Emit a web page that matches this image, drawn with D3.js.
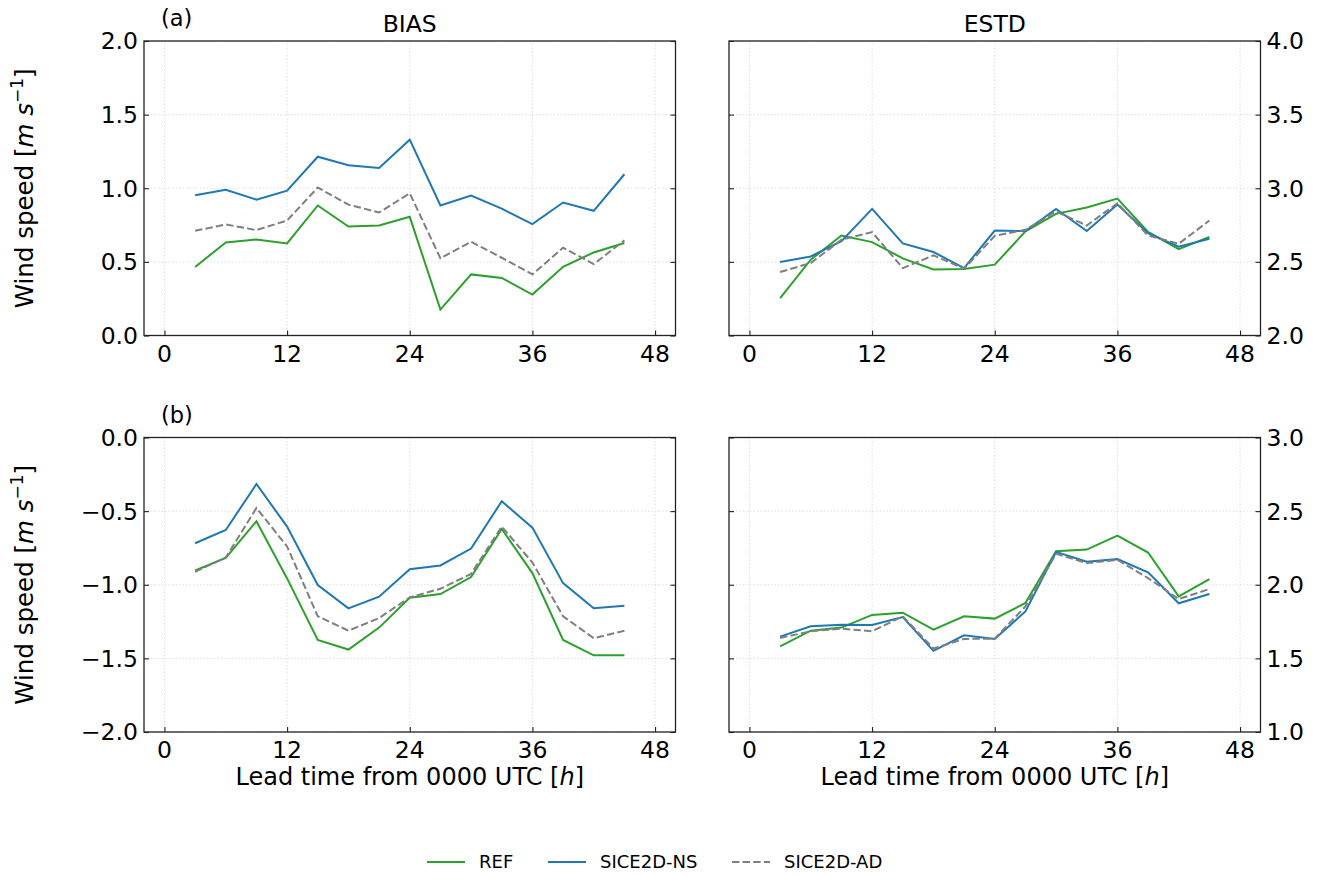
<!DOCTYPE html>
<html>
<head>
<meta charset="utf-8">
<script src="https://cdn.jsdelivr.net/npm/d3@7"></script>
<style>
  body { margin: 0; background: #fff; }
  svg { font-family: "DejaVu Sans", sans-serif; }
</style>
</head>
<body>
<script>
// lead times (h)
var leadTimes = [3, 6, 9, 12, 15, 18, 21, 24, 27, 30, 33, 36, 39, 42, 45];
var xTicks = [0, 12, 24, 36, 48];

// (a) BIAS
var aBiasREF = [0.465, 0.632, 0.652, 0.625, 0.883, 0.740, 0.747, 0.806, 0.176, 0.415, 0.391, 0.278, 0.467, 0.564, 0.628];
var aBiasNS  = [0.953, 0.989, 0.923, 0.984, 1.214, 1.156, 1.138, 1.330, 0.883, 0.950, 0.862, 0.756, 0.903, 0.847, 1.095];
var aBiasAD  = [0.711, 0.754, 0.716, 0.781, 1.005, 0.889, 0.835, 0.966, 0.524, 0.637, 0.528, 0.415, 0.596, 0.485, 0.646];
// (a) ESTD
var aEstdREF = [2.253, 2.515, 2.679, 2.634, 2.524, 2.449, 2.451, 2.481, 2.707, 2.826, 2.869, 2.930, 2.704, 2.587, 2.670];
var aEstdNS  = [2.499, 2.537, 2.641, 2.860, 2.625, 2.567, 2.458, 2.713, 2.709, 2.860, 2.709, 2.889, 2.695, 2.603, 2.657];
var aEstdAD  = [2.431, 2.492, 2.650, 2.702, 2.458, 2.544, 2.454, 2.677, 2.718, 2.842, 2.747, 2.898, 2.679, 2.623, 2.781];
// (b) BIAS
var bBiasREF = [-0.903, -0.817, -0.569, -0.957, -1.375, -1.440, -1.291, -1.088, -1.063, -0.948, -0.621, -0.921, -1.375, -1.479, -1.479];
var bBiasNS  = [-0.718, -0.628, -0.316, -0.605, -1.002, -1.160, -1.081, -0.894, -0.869, -0.754, -0.433, -0.612, -0.989, -1.160, -1.142];
var bBiasAD  = [-0.912, -0.815, -0.479, -0.740, -1.214, -1.312, -1.226, -1.086, -1.027, -0.926, -0.605, -0.849, -1.214, -1.363, -1.312];
// (b) ESTD
var bEstdREF = [1.582, 1.688, 1.709, 1.795, 1.810, 1.695, 1.786, 1.770, 1.876, 2.228, 2.239, 2.334, 2.219, 1.921, 2.038];
var bEstdNS  = [1.648, 1.718, 1.729, 1.727, 1.781, 1.551, 1.657, 1.632, 1.819, 2.223, 2.156, 2.174, 2.084, 1.874, 1.937];
var bEstdAD  = [1.639, 1.684, 1.702, 1.684, 1.786, 1.567, 1.632, 1.634, 1.853, 2.210, 2.147, 2.169, 2.045, 1.903, 1.971];

var seriesNames = ["REF", "SICE2D-NS", "SICE2D-AD"];
var seriesColors = ["#2ca02c", "#1f77b4", "#7f7f7f"];
var seriesDash = [null, null, "7.4,3.2"];

var W = 1320, H = 875;
var svg = d3.select("body").append("svg")
  .attr("width", W)
  .attr("height", H);

// panel boxes
var colX = [[144, 675.5], [729, 1260.5]];
var rowY = [[41, 335.5], [437.5, 732]];

var panels = [
  {row: 0, col: 0, dom: [0, 2], ticks: [0, 0.5, 1, 1.5, 2], data: [aBiasREF, aBiasNS, aBiasAD], title: "BIAS", tag: "(a)"},
  {row: 0, col: 1, dom: [2, 4], ticks: [2, 2.5, 3, 3.5, 4], data: [aEstdREF, aEstdNS, aEstdAD], title: "ESTD"},
  {row: 1, col: 0, dom: [-2, 0], ticks: [-2, -1.5, -1, -0.5, 0], data: [bBiasREF, bBiasNS, bBiasAD], tag: "(b)"},
  {row: 1, col: 1, dom: [1, 3], ticks: [1, 1.5, 2, 2.5, 3], data: [bEstdREF, bEstdNS, bEstdAD]}
];

var fmt = function(v) { return d3.format(".1f")(v).replace("-", "\u2212"); };
var tickLen = 5;
var fs = 23.5;

panels.forEach(function(p) {
  var x0 = colX[p.col][0], x1 = colX[p.col][1];
  var y0 = rowY[p.row][0], y1 = rowY[p.row][1];
  var x = d3.scaleLinear().domain([-2, 50]).range([x0, x1]);
  var y = d3.scaleLinear().domain(p.dom).range([y1, y0]);
  var g = svg.append("g");

  // grid
  g.selectAll("line.gx").data(xTicks).enter().append("line")
    .attr("x1", d => x(d)).attr("x2", d => x(d))
    .attr("y1", y0).attr("y2", y1)
    .attr("stroke", "#d9d9d9").attr("stroke-width", 0.9).attr("stroke-dasharray", "1.5,2");
  g.selectAll("line.gy").data(p.ticks).enter().append("line")
    .attr("x1", x0).attr("x2", x1)
    .attr("y1", d => y(d)).attr("y2", d => y(d))
    .attr("stroke", "#d9d9d9").attr("stroke-width", 0.9).attr("stroke-dasharray", "1.5,2");

  // lines
  var line = d3.line().x((d, i) => x(leadTimes[i])).y(d => y(d));
  p.data.forEach(function(vals, k) {
    g.append("path")
      .datum(vals)
      .attr("d", line)
      .attr("fill", "none")
      .attr("stroke", seriesColors[k])
      .attr("stroke-width", 2)
      .attr("stroke-dasharray", seriesDash[k]);
  });

  // frame
  g.append("rect")
    .attr("x", x0).attr("y", y0)
    .attr("width", x1 - x0).attr("height", y1 - y0)
    .attr("fill", "none").attr("stroke", "#222").attr("stroke-width", 1.3);

  // ticks, inward
  var xAxis = d3.axisTop(x).tickValues(xTicks).tickSize(tickLen).tickFormat("");
  g.append("g").attr("transform", "translate(0," + y1 + ")").call(xAxis)
    .call(s => s.select(".domain").remove());
  var yl = d3.axisRight(y).tickValues(p.ticks).tickSize(tickLen).tickFormat("");
  var yr = d3.axisLeft(y).tickValues(p.ticks).tickSize(tickLen).tickFormat("");
  g.append("g").attr("transform", "translate(" + x0 + ",0)").call(yl).call(s => s.select(".domain").remove());
  g.append("g").attr("transform", "translate(" + x1 + ",0)").call(yr).call(s => s.select(".domain").remove());
  g.selectAll(".tick line").attr("stroke", "#222").attr("stroke-width", 1.1);

  // tick labels
  g.selectAll("text.xl").data(xTicks).enter().append("text")
    .attr("x", d => x(d)).attr("y", y1 + 26)
    .attr("text-anchor", "middle")
    .attr("font-size", fs)
    .text(d => d);
  g.selectAll("text.yl").data(p.ticks).enter().append("text")
    .attr("x", p.col === 0 ? x0 - 6 : x1 + 6)
    .attr("y", d => y(d))
    .attr("dy", "0.36em")
    .attr("text-anchor", p.col === 0 ? "end" : "start")
    .attr("font-size", fs)
    .text(fmt);

  if (p.title) {
    g.append("text")
      .attr("x", (x0 + x1) / 2).attr("y", y0 - 9)
      .attr("text-anchor", "middle")
      .attr("font-size", fs)
      .text(p.title);
  }
  if (p.tag) {
    g.append("text")
      .attr("x", 161).attr("y", y0 - 15)
      .attr("font-size", 22.5)
      .text(p.tag);
  }

  if (p.col === 0) {
    var cy = (y0 + y1) / 2;
    var t = g.append("text")
      .attr("transform", "translate(33," + cy + ") rotate(-90)")
      .attr("text-anchor", "middle")
      .attr("font-size", 24.5);
    t.append("tspan").text("Wind speed [");
    t.append("tspan").attr("font-style", "italic").text("m");
    t.append("tspan").text(" ");
    t.append("tspan").attr("font-style", "italic").text("s");
    t.append("tspan").attr("font-size", 17).attr("dy", -10).text("\u22121");
    t.append("tspan").attr("dy", 10).text("]");
  }

  if (p.row === 1) {
    var xt = g.append("text")
      .attr("x", (x0 + x1) / 2).attr("y", y1 + 53)
      .attr("text-anchor", "middle")
      .attr("font-size", 24);
    xt.append("tspan").text("Lead time from 0000 UTC [");
    xt.append("tspan").attr("font-style", "italic").text("h");
    xt.append("tspan").text("]");
  }
});

// legend
var legX = [427, 548, 732];
var leg = svg.append("g");
seriesNames.forEach(function(name, k) {
  leg.append("line")
    .attr("x1", legX[k]).attr("x2", legX[k] + 38)
    .attr("y1", 862).attr("y2", 862)
    .attr("stroke", seriesColors[k]).attr("stroke-width", 2)
    .attr("stroke-dasharray", seriesDash[k]);
  leg.append("text")
    .attr("x", legX[k] + 52).attr("y", 862)
    .attr("dy", "0.36em")
    .attr("font-size", 18)
    .text(name);
});
</script>
</body>
</html>
